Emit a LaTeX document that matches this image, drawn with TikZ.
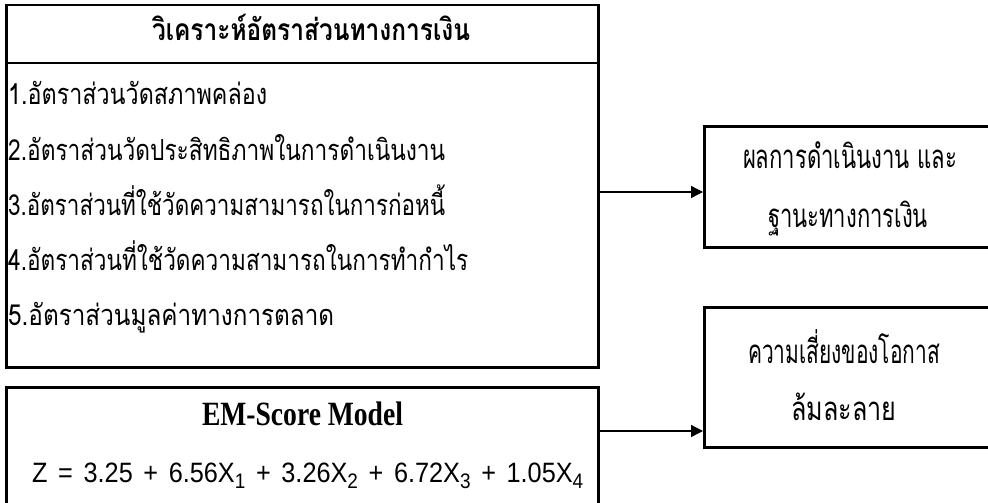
\documentclass[tikz,border=0pt]{standalone}
\usepackage{fontspec}
\usepackage{graphicx}
\usetikzlibrary{arrows.meta}
\newfontfamily\thaifont[Script=Thai]{Loma}
\newfontfamily\emfont{Liberation Serif}
\newfontfamily\formfont{Liberation Sans}
\newcommand\zsub[1]{\raisebox{-6pt}{\fontsize{21}{21}\selectfont #1}}
\newcommand\zs{\hspace{0.42em}}
\newcommand\fitw[2]{\resizebox{#1}{\height}{#2}}
\tikzset{
  boxshape/.style={draw, line width=2.5pt, inner sep=0pt, anchor=north west},
  divider/.style={line width=2.5pt},
  conn/.style={line width=1.4pt, -{Triangle[length=12pt,width=12pt]}},
  itemtext/.style={inner sep=0pt, anchor=base west, font=\thaifont\fontsize{29}{29}\selectfont},
  headtext/.style={inner sep=0pt, anchor=base, font=\thaifont\bfseries\fontsize{30}{30}\selectfont},
  restext/.style={inner sep=0pt, anchor=base, font=\thaifont\fontsize{33}{33}\selectfont},
  emtext/.style={inner sep=0pt, anchor=base, font=\emfont\bfseries\fontsize{34}{34}\selectfont},
  formtext/.style={inner sep=0pt, anchor=base west, font=\formfont\fontsize{28}{28}\selectfont}
}
\begin{document}
\begin{tikzpicture}[x=1pt,y=1pt]
\useasboundingbox (0,0) rectangle (988,-503);
\clip (0,0) rectangle (988,-503);
\fill[white] (0,0) rectangle (988,-503);
% boxes
\node[boxshape, minimum width=592pt, minimum height=362pt] (ratios) at (5,-4) {};
\node[boxshape, minimum width=592pt, minimum height=140pt] (em) at (5,-386) {};
\node[boxshape, minimum width=320pt, minimum height=121pt] (res) at (703,-125) {};
\node[boxshape, minimum width=320pt, minimum height=140pt] (risk) at (703,-306) {};
% header divider
\coordinate (hd) at (0,-63);
\draw[divider] (ratios.west |- hd) -- (ratios.east |- hd);
% texts
\node[headtext] (head) at (311,-41) {\fitw{318pt}{วิเคราะห์อัตราส่วนทางการเงิน}};
\node[itemtext] (i1) at (8,-105) {\fitw{259pt}{1.อัตราส่วนวัดสภาพคล่อง}};
\node[itemtext] (i2) at (8,-160) {\fitw{437pt}{2.อัตราส่วนวัดประสิทธิภาพในการดำเนินงาน}};
\node[itemtext] (i3) at (8,-215) {\fitw{437pt}{3.อัตราส่วนที่ใช้วัดความสามารถในการก่อหนี้}};
\node[itemtext] (i4) at (8,-270) {\fitw{460pt}{4.อัตราส่วนที่ใช้วัดความสามารถในการทำกำไร}};
\node[itemtext] (i5) at (8,-325) {\fitw{326pt}{5.อัตราส่วนมูลค่าทางการตลาด}};
\node[emtext] (emt) at (302.5,-425) {\fitw{201pt}{EM-Score Model}};
\node[formtext] (form) at (32,-482) {\fitw{551pt}{Z\zs=\zs3.25\zs+\zs6.56X\zsub{1}\zs+\zs3.26X\zsub{2}\zs+\zs6.72X\zsub{3}\zs+\zs1.05X\zsub{4}}};
\node[restext] (r1) at (850,-168) {\fitw{214pt}{ผลการดำเนินงาน และ}};
\node[restext] (r2) at (848,-227) {\fitw{160pt}{ฐานะทางการเงิน}};
\node[restext] (k1) at (844,-363) {\fitw{192pt}{ความเสี่ยงของโอกาส}};
\node[restext] (k2) at (844,-420) {\fitw{105pt}{ล้มละลาย}};
% connectors
\coordinate (y1) at (0,-192);
\coordinate (y2) at (0,-431);
\draw[conn] (ratios.east |- y1) -- (res.west |- y1);
\draw[conn] (em.east |- y2) -- (risk.west |- y2);
\end{tikzpicture}
\end{document}
